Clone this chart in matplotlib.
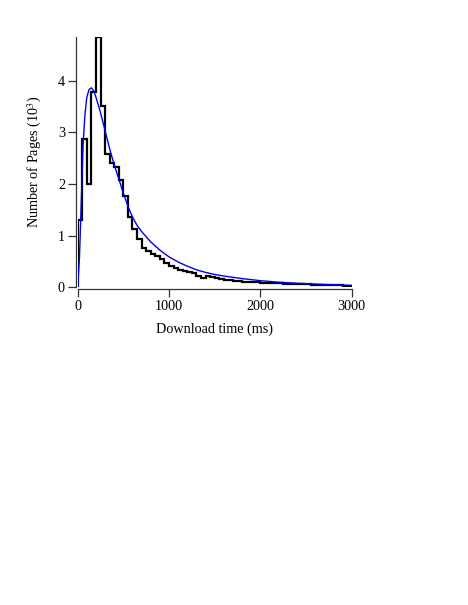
import numpy as np
import matplotlib
matplotlib.use("Agg")
import matplotlib.pyplot as plt

plt.rcParams['font.family'] = ['Liberation Serif', 'DejaVu Serif']
plt.rcParams['mathtext.fontset'] = 'stix'

# histogram: 50 ms bins from 0 to 3000 ms, counts in thousands of pages
largeur_bin = 50
pages = [1.30, 2.87, 2.00, 3.78, 4.84, 3.51, 2.59, 2.41, 2.33, 2.08,
         1.77, 1.36, 1.12, 0.93, 0.76, 0.70, 0.65, 0.60, 0.55, 0.47,
         0.41, 0.37, 0.33, 0.31, 0.29, 0.28, 0.22, 0.19, 0.22, 0.21,
         0.18, 0.16, 0.15, 0.14, 0.13, 0.12, 0.11, 0.11, 0.10, 0.10,
         0.09, 0.09, 0.08, 0.08, 0.08, 0.07, 0.07, 0.07, 0.06, 0.06,
         0.06, 0.05, 0.05, 0.05, 0.05, 0.04, 0.04, 0.04, 0.03, 0.03]
bords = np.arange(0, largeur_bin * (len(pages) + 1), largeur_bin)

# fitted curve (blue)
temps_fit = [0, 20, 40, 60, 80, 100, 125, 150, 175, 200, 250, 300, 350,
             400, 450, 500, 550, 600, 650, 700, 800, 900, 1000, 1100,
             1200, 1300, 1400, 1500, 1600, 1800, 2000, 2200, 2400, 2600,
             2800, 3000]
pages_fit = [0.0, 0.6, 1.7, 2.8, 3.35, 3.68, 3.83, 3.86, 3.80, 3.68, 3.38,
             3.03, 2.68, 2.37, 2.10, 1.82, 1.57, 1.36, 1.20, 1.08, 0.88,
             0.72, 0.59, 0.49, 0.41, 0.34, 0.29, 0.25, 0.22, 0.17, 0.13,
             0.10, 0.08, 0.065, 0.05, 0.04]

fig = plt.figure(figsize=(4.68, 6.05), dpi=100)
ax = fig.add_axes([0.166, 0.525, 0.5855, 0.4135])

ax.stairs(pages, bords, baseline=0, fill=False, color='black', linewidth=1.6)
ax.plot(temps_fit, pages_fit, color='#0000ee', linewidth=1.0)

ax.set_xlim(0, 3000)
ax.set_ylim(0, 4.84)
ax.set_xticks([0, 1000, 2000, 3000])
ax.set_yticks([0, 1, 2, 3, 4])

for c in ['top', 'right']:
    ax.spines[c].set_visible(False)
for c in ['left', 'bottom']:
    ax.spines[c].set_position(('outward', 1.2))
    ax.spines[c].set_color('#333333')
    ax.spines[c].set_linewidth(0.9)
ax.tick_params(direction='out', length=5.5, width=0.9, color='#333333',
               labelsize=10.2, pad=2.5)

ax.set_xlabel('Download time (ms)', fontsize=10.2, labelpad=7)
ax.set_ylabel('Number of Pages (10$^3$)', fontsize=10.2, labelpad=10)

fig.savefig('out.png', dpi=100)
